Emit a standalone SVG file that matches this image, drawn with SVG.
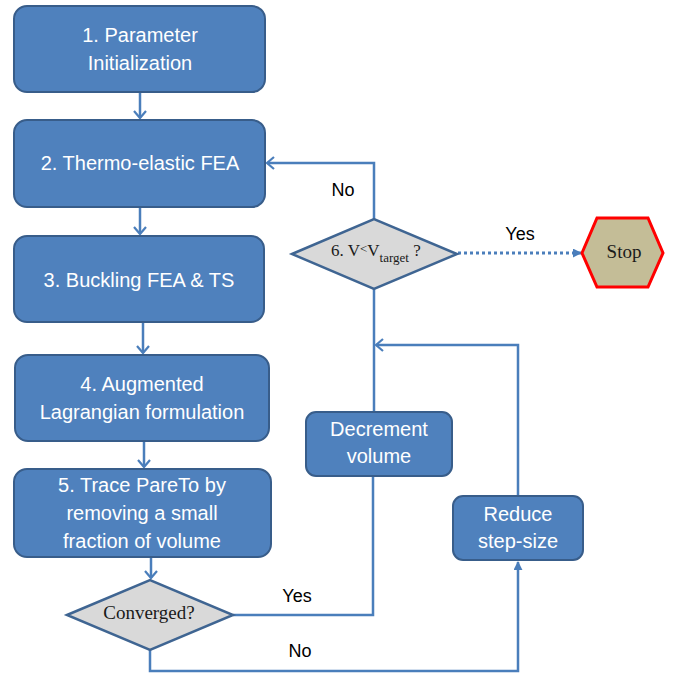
<svg xmlns="http://www.w3.org/2000/svg" width="674" height="677" viewBox="0 0 674 677">
<defs>
<style>
.box{fill:#4F81BD;stroke:#385D8A;stroke-width:2}
.bt{font-family:"Liberation Sans",Arial,sans-serif;font-size:20px;fill:#FFFFFF;text-anchor:middle}
.dia{fill:#D9D9D9;stroke:#3F6592;stroke-width:2.5}
.ser{font-family:"Liberation Serif","Times New Roman",serif;fill:#1A1A1A}
.lbl{font-family:"Liberation Sans",Arial,sans-serif;font-size:18px;fill:#000000;text-anchor:middle}
.con{fill:none;stroke:#4A7EBB;stroke-width:2.5}
.arr{marker-end:url(#open)}
</style>
<marker id="open" viewBox="0 0 10 14" refX="8" refY="7" markerWidth="10" markerHeight="14" markerUnits="userSpaceOnUse" orient="auto">
<path d="M1,1 L8,7 L1,13" fill="none" stroke="#4A7EBB" stroke-width="2.2"/>
</marker>
<marker id="tri" viewBox="0 0 10 10" refX="9" refY="5" markerWidth="9" markerHeight="9" markerUnits="userSpaceOnUse" orient="auto">
<path d="M0,0 L10,5 L0,10 Z" fill="#4A7EBB"/>
</marker>
</defs>

<g id="connectors">
<line class="con arr" x1="140" y1="93" x2="140" y2="118"/>
<line class="con arr" x1="140" y1="208" x2="140" y2="234"/>
<line class="con arr" x1="143" y1="323" x2="143" y2="353"/>
<line class="con arr" x1="144" y1="442" x2="144" y2="467"/>
<line class="con arr" x1="151" y1="558" x2="151" y2="578"/>
<polyline class="con arr" points="374,219 374,163 267,163"/>
<polyline class="con" points="374,289 374,412"/>
<polyline class="con" points="233,615 373,615 373,476"/>
<polyline class="con" points="150,650 150,671 518,671 518,562" marker-end="url(#tri)"/>
<polyline class="con arr" points="518,496 518,345 376,345"/>
<line x1="458" y1="253" x2="581" y2="253" stroke="#4A7EBB" stroke-width="3" stroke-dasharray="3,3" marker-end="url(#tri)"/>
</g>

<g id="node1">
<rect class="box" x="14" y="6" width="251" height="86" rx="13"/>
<text class="bt" x="140" y="42">1. Parameter</text>
<text class="bt" x="140" y="70">Initialization</text>
</g>

<g id="node2">
<rect class="box" x="14" y="120" width="251" height="87" rx="13"/>
<text class="bt" x="140" y="170">2. Thermo-elastic FEA</text>
</g>

<g id="node3">
<rect class="box" x="14" y="236" width="250" height="86" rx="13"/>
<text class="bt" x="139" y="287">3. Buckling FEA &amp; TS</text>
</g>

<g id="node4">
<rect class="box" x="15" y="355" width="254" height="86" rx="13"/>
<text class="bt" x="142" y="391">4. Augmented</text>
<text class="bt" x="142" y="419">Lagrangian formulation</text>
</g>

<g id="node5">
<rect class="box" x="14" y="469" width="257" height="88" rx="13"/>
<text class="bt" x="142" y="492">5. Trace PareTo by</text>
<text class="bt" x="142" y="520">removing  a small</text>
<text class="bt" x="142" y="548">fraction of volume</text>
</g>

<g id="converged">
<polygon class="dia" points="67,615 150,580 233,615 150,650"/>
<text class="ser" x="149" y="619" font-size="19" text-anchor="middle">Converged?</text>
</g>

<g id="decision6">
<polygon class="dia" points="292,254 374,219 457,254 374,289"/>
<text class="ser" x="331" y="256" font-size="17">6. V<tspan font-size="13" dy="-3">&lt;</tspan><tspan dy="3">V</tspan><tspan font-size="13" dy="6">target</tspan><tspan dy="-6"> ?</tspan></text>
</g>

<g id="stop">
<polygon points="582,253 597,218 648,218 663,253 648,287 597,287" fill="#C4BD97" stroke="#FF0000" stroke-width="3"/>
<text class="ser" x="624" y="258" font-size="19" text-anchor="middle">Stop</text>
</g>

<g id="decrement">
<rect class="box" x="306" y="412" width="146" height="64" rx="10"/>
<text class="bt" x="379" y="436">Decrement</text>
<text class="bt" x="379" y="463">volume</text>
</g>

<g id="reduce">
<rect class="box" x="453" y="496" width="130" height="64" rx="10"/>
<text class="bt" x="518" y="521">Reduce</text>
<text class="bt" x="518" y="548">step-size</text>
</g>

<g id="labels">
<text class="lbl" x="343" y="196">No</text>
<text class="lbl" x="520" y="240">Yes</text>
<text class="lbl" x="297" y="602">Yes</text>
<text class="lbl" x="300" y="657">No</text>
</g>
</svg>
